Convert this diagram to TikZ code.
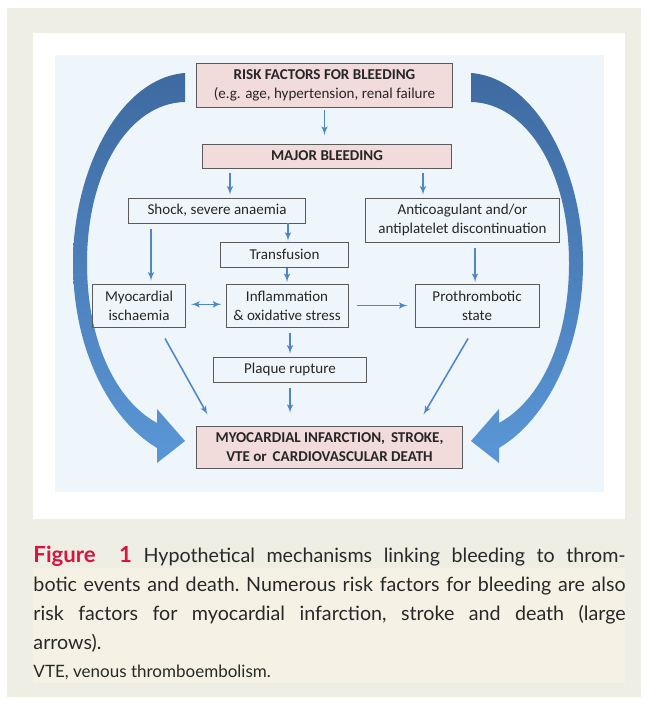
\documentclass[tikz,border=0pt]{standalone}
\usepackage{fontspec}
\setmainfont{Carlito}
\newfontfamily\capfont{Lato}
\usepackage{tikz}
\usetikzlibrary{shapes,backgrounds,positioning,arrows,calc}

\definecolor{pagebg}{RGB}{239,238,228}
\definecolor{captint}{RGB}{245,242,229}
\definecolor{diagbg}{RGB}{239,246,251}
\definecolor{keypink}{RGB}{242,220,219}
\definecolor{boxline}{RGB}{90,90,90}
\definecolor{linkblue}{RGB}{79,134,198}
\definecolor{bigtop}{RGB}{62,106,160}
\definecolor{bigbot}{RGB}{90,150,214}
\definecolor{figred}{RGB}{214,21,64}
\definecolor{captext}{RGB}{40,40,40}

\newcommand{\diagfont}{\fontsize{10.7}{13.5}\selectfont}
\newcommand{\bigarrow}{(185,73) .. controls (120,78) and (73,170) .. (73,263)
  .. controls (73,350) and (110,420) .. (157,448)
  -- (157,463) -- (185,441) -- (157,409) -- (157,423)
  .. controls (115,400) and (87,340) .. (87,263)
  .. controls (87,170) and (130,103) .. (185,102) -- cycle}

\begin{document}
\begin{tikzpicture}[x=0.025cm,y=-0.025cm,auto,>=latex',line width=0.7pt]
\tikzstyle{block} = [draw=boxline, shape=rectangle, inner sep=0pt, align=center, text=black!85, font=\diagfont]
\tikzstyle{keyblock} = [block, fill=keypink, font=\diagfont\bfseries]
\tikzstyle{link} = [->, draw=linkblue, line width=1.1pt]

% Panels
\useasboundingbox (0,0) rectangle (646,701);
\fill[pagebg] (7,8) rectangle (641,697);
\fill[white] (33,33) rectangle (625,519);
\fill[diagbg] (55,55) rectangle (604,492);
\fill[captint] (33,568) rectangle (625,683);

% Large arrows
\shade[top color=bigtop, bottom color=bigbot] \bigarrow;
\begin{scope}[shift={(656,0)}, xscale=-1]
\shade[top color=bigtop, bottom color=bigbot] \bigarrow;
\end{scope}

% Bleeding
\node [keyblock, minimum width=6.375cm, minimum height=1.075cm] at (324.5,85.5) (risk) {RISK FACTORS FOR BLEEDING\\ \mdseries (e.g. age, hypertension, renal failure};
\node [keyblock, minimum width=6.2cm, minimum height=0.6cm] at (327,156) (major) {MAJOR BLEEDING};
\draw[link, shorten <=2pt, shorten >=6pt] (risk.south) -- (risk.south |- major.north);

% Consequences
\node [block, minimum width=4.4cm, minimum height=0.625cm] at (217,210.5) (shock) {Shock, severe anaemia};
\node [block, minimum width=4.825cm, minimum height=1.1cm] at (462.5,220) (anticoag) {Anticoagulant and/or\\ antiplatelet discontinuation};
\node [block, minimum width=3.175cm, minimum height=0.625cm] at (284.5,254.5) (transf) {Transfusion};
\coordinate (ms1) at ($(major.south)+(-97,0)$);
\coordinate (ms2) at ($(major.south)+(96,0)$);
\draw[link, shorten <=3pt, shorten >=2pt] (ms1) -- (ms1 |- shock.north);
\draw[link, shorten <=3pt, shorten >=2pt] (ms2) -- (ms2 |- anticoag.north);

% Mechanisms
\node [block, minimum width=2.3cm, minimum height=1.075cm] at (139,305.5) (myo) {Myocardial\\ ischaemia};
\node [block, right of=myo, node distance=3.7cm, minimum width=3.05cm, minimum height=1.075cm] (inflam) {Inflammation\\ \&~oxidative stress};
\node [block, right of=inflam, node distance=4.75cm, minimum width=3.1cm, minimum height=1.075cm] (proth) {Prothrombotic\\ state};
\node [block, minimum width=3.8cm, minimum height=0.625cm] at (290,369.5) (plaque) {Plaque rupture};
\coordinate (ss1) at ($(shock.south)+(-66,0)$);
\coordinate (ss2) at ($(shock.south)+(71,0)$);
\draw[link, shorten <=4pt, shorten >=2pt] (ss1) -- (ss1 |- myo.north);
\draw[link, shorten >=0.5pt] (ss2) -- (ss2 |- transf.north);
\draw[link, shorten <=0.5pt, shorten >=1pt] (inflam.north |- transf.south) -- (inflam.north);
\draw[link, <->, shorten <=4pt, shorten >=3pt] ([yshift=0.03cm]myo.east) -- ([yshift=0.03cm]inflam.west);
\draw[link, shorten <=6pt, shorten >=5pt] (inflam.east) -- (proth.west);
\draw[link, shorten <=4pt, shorten >=1pt] ($(proth.north |- anticoag.south)+(-2,0)$) -- ($(proth.north)+(-2,0)$);
\draw[link, shorten <=4pt, shorten >=2pt] (plaque.north |- inflam.south) -- (plaque.north);

% Outcome
\node [keyblock, minimum width=6.625cm, minimum height=1.05cm] at (329.5,447) (mi) {MYOCARDIAL INFARCTION,\, STROKE,\\ VTE or\, CARDIOVASCULAR DEATH};
\coordinate (d1s) at ($(myo.south)+(26,11)$);
\coordinate (d1e) at ($(mi.north west)+(11,-11)$);
\coordinate (d2s) at ($(proth.south)+(-9,11)$);
\coordinate (d2e) at ($(mi.north east)+(-39,-11)$);
\draw[link] (d1s) -- (d1e);
\draw[link] (d2s) -- (d2e);
\draw[link, shorten <=4pt, shorten >=9pt] (plaque.south) -- (plaque.south |- mi.north);

% Caption
\node [anchor=base west, inner sep=0pt, text width=14.8cm, align=justify, text=captext, font=\capfont\fontsize{14}{20.8}\selectfont\frenchspacing] at (33,562) (caption) {%
{\bfseries\color{figred}\fontsize{15.8}{20.8}\selectfont Figure\hspace{0.5em} 1} Hypothetical mechanisms linking bleeding to throm-\linebreak
botic events and death. Numerous risk factors for bleeding are also\linebreak
risk factors for myocardial infarction, stroke and death (large\linebreak
arrows).};
\node [anchor=base west, inner sep=0pt, text=captext, font=\capfont\fontsize{12.1}{15}\selectfont] at (33,677) (abbrev) {VTE, venous thromboembolism.};

\end{tikzpicture}
\end{document}
